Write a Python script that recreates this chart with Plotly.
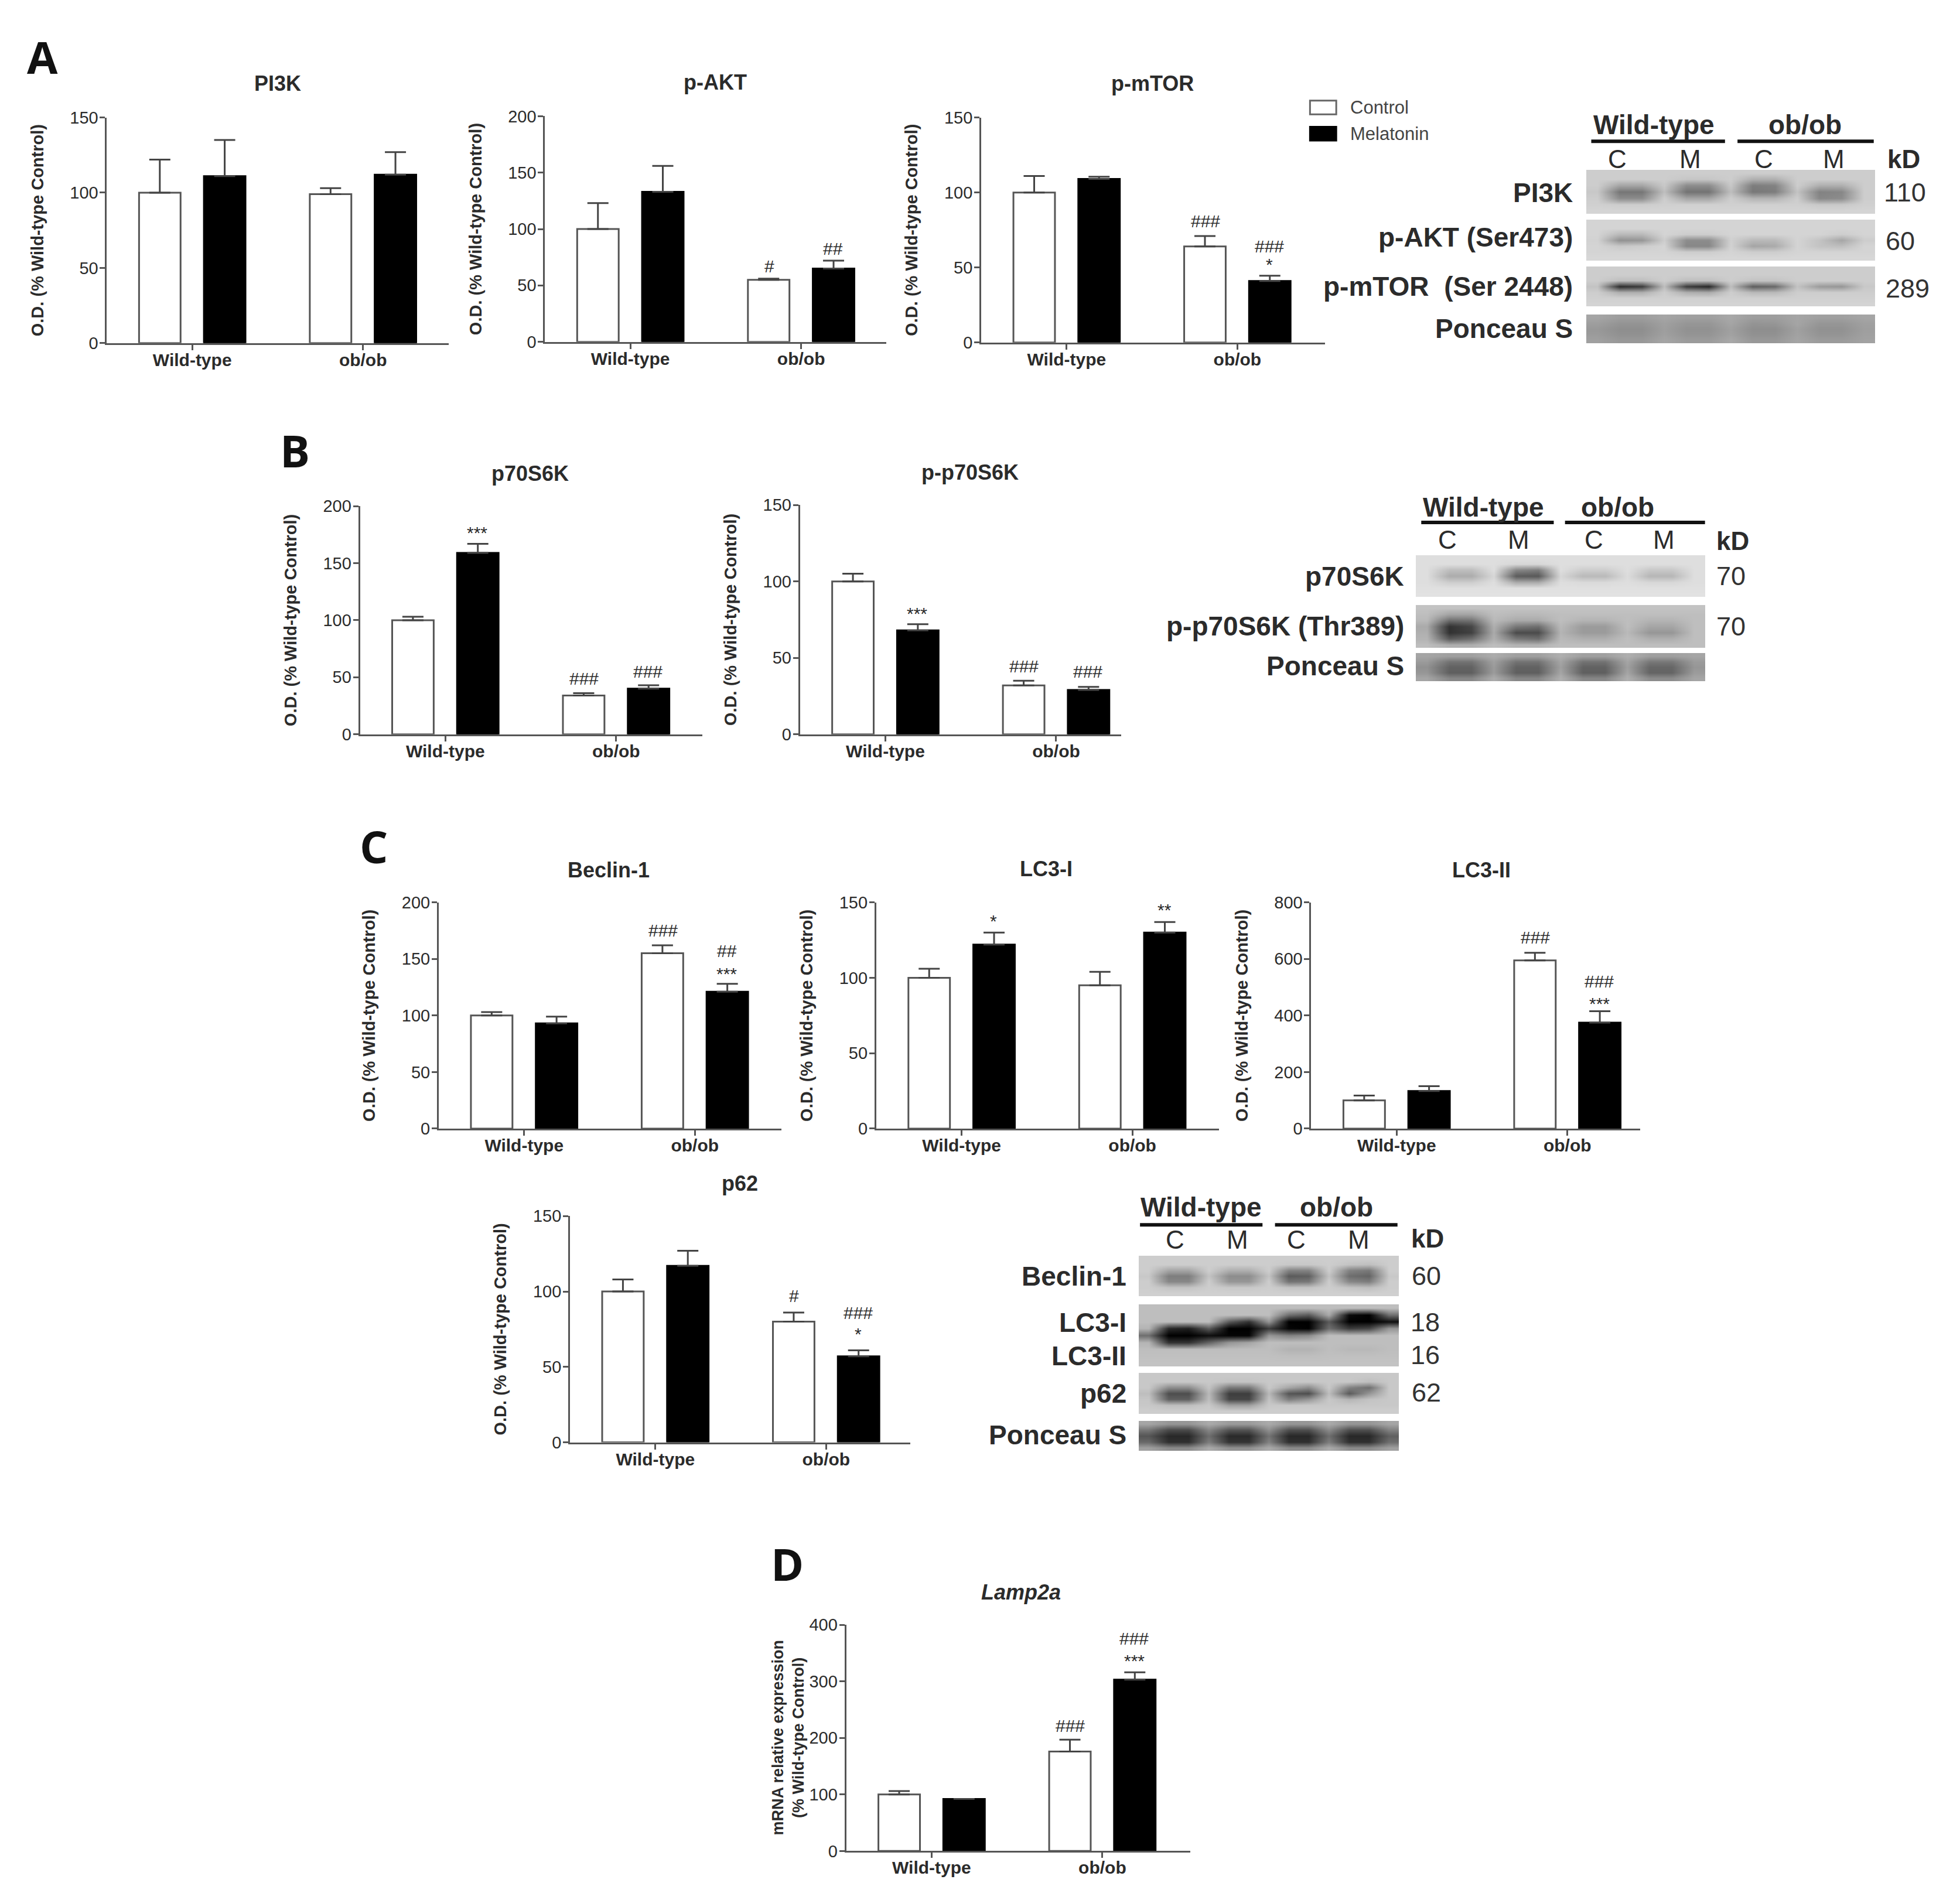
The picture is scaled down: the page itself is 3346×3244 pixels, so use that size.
import plotly.graph_objects as go

W, H = 3346, 3244
K = W / 1568.0  # reference overview units to page pixels
PAGE = 8        # the browser's body margin offsets the figure on the page
INK = "#2b2b2b"
AXC = "#555555"
FONT = "Liberation Sans"

groups = ["Wild-type", "ob/ob"]
series_names = ["Control", "Melatonin"]

# ---- values
pi3k_control = [100, 99];   pi3k_melatonin = [111, 112]
pi3k_control_err = [22, 4]; pi3k_melatonin_err = [24, 15]
pakt_control = [100, 55];   pakt_melatonin = [133, 65]
pakt_control_err = [23, 1]; pakt_melatonin_err = [23, 7]
pmtor_control = [100, 64];  pmtor_melatonin = [109, 41]
pmtor_control_err = [11, 7]; pmtor_melatonin_err = [1.5, 3.5]
p70_control = [100, 34];    p70_melatonin = [159, 40]
p70_control_err = [3, 2];   p70_melatonin_err = [8, 3]
pp70_control = [100, 32];   pp70_melatonin = [68, 29]
pp70_control_err = [5, 3];  pp70_melatonin_err = [4, 2]
beclin_control = [100, 155]; beclin_melatonin = [93, 121]
beclin_control_err = [3, 7]; beclin_melatonin_err = [6, 7]
lc3i_control = [100, 95];   lc3i_melatonin = [122, 130]
lc3i_control_err = [6, 9];  lc3i_melatonin_err = [8, 7]
lc3ii_control = [100, 595]; lc3ii_melatonin = [133, 375]
lc3ii_control_err = [17, 27]; lc3ii_melatonin_err = [17, 40]
p62_control = [100, 80];    p62_melatonin = [117, 57]
p62_control_err = [8, 6];   p62_melatonin_err = [10, 4]
lamp_control = [100, 176];  lamp_melatonin = [92, 303]
lamp_control_err = [6, 21]; lamp_melatonin_err = [0, 13]

# significance marks: (group index, series index, text, height in data units)
pakt_marks = [(1, 0, "#", 67), (1, 1, "##", 82.5)]
pmtor_marks = [(1, 0, "###", 81), (1, 1, "###", 64), (1, 1, "*", 52)]
p70_marks = [(0, 1, "***", 177), (1, 0, "###", 49), (1, 1, "###", 55)]
pp70_marks = [(0, 1, "***", 79), (1, 0, "###", 44.5), (1, 1, "###", 41)]
beclin_marks = [(1, 0, "###", 175), (1, 1, "##", 157), (1, 1, "***", 137)]
lc3i_marks = [(0, 1, "*", 137.5), (1, 1, "**", 145)]
lc3ii_marks = [(1, 0, "###", 676), (1, 1, "###", 521), (1, 1, "***", 442)]
p62_marks = [(1, 0, "#", 97), (1, 1, "###", 86), (1, 1, "*", 72)]
lamp_marks = [(1, 0, "###", 221), (1, 1, "###", 376), (1, 1, "***", 336)]

# ---- blot strips, grey levels read on a coarse grid (top row first)
blot_a_pi3k = [
 [205,205,205,205,205,205,205,205,205,205,205,205,205],
 [205,205,205,205,198,198,205,175,175,205,205,205,205],
 [205,165,165,200,140,140,200,125,130,205,175,175,205],
 [200,118,118,190,115,115,190,120,125,195,130,135,205],
 [205,140,140,205,165,165,205,180,180,205,135,140,205],
 [208,204,204,208,208,208,208,208,208,208,200,200,208],
 [212,212,212,212,212,212,212,212,212,212,212,212,212]]
blot_a_pakt = [
 [212,212,212,212,212,212,212,212,212,212,212,212,212],
 [212,212,212,212,212,212,212,212,212,212,212,212,212],
 [212,185,185,212,205,205,212,212,212,212,212,205,212],
 [210,145,150,205,140,140,208,185,185,212,195,165,205],
 [212,200,205,212,135,135,210,165,170,212,195,190,212],
 [212,212,212,212,205,205,212,205,205,212,212,212,212],
 [215,215,215,215,215,215,215,215,215,215,215,215,215]]
blot_a_pmtor = [
 [205,205,205,205,205,205,205,205,205,205,205,205,205],
 [205,205,205,205,205,205,205,205,205,205,205,205,205],
 [205,190,190,205,190,190,205,195,195,205,205,205,205],
 [195,45,60,190,60,40,190,95,105,195,155,150,200],
 [205,175,175,205,175,170,205,185,185,205,205,205,205],
 [208,208,208,208,208,208,208,208,208,208,208,208,208],
 [212,212,212,212,212,212,212,212,212,212,212,212,212]]
blot_a_ponceau = [
 [165,158,158,165,160,160,168,158,158,165,160,160,165],
 [158,148,148,160,150,150,165,148,150,165,150,150,160],
 [152,142,142,158,145,145,160,142,142,160,145,145,158],
 [155,145,145,160,148,148,162,145,145,162,148,148,160],
 [160,152,152,165,155,155,168,152,152,165,155,155,162]]

blot_b_p70 = [
 [222,222,222,222,222,222,222,222,222,222,222,222,222],
 [222,222,222,222,215,215,222,222,222,222,222,222,222],
 [222,190,190,222,135,125,222,205,205,222,200,200,222],
 [222,172,172,215,92,88,215,185,185,220,182,182,222],
 [222,205,205,222,170,170,222,218,218,222,215,215,222],
 [224,224,224,224,224,224,224,224,224,224,224,224,224],
 [226,226,226,226,226,226,226,226,226,226,226,226,226]]
blot_b_pp70 = [
 [195,195,195,195,195,195,195,195,195,195,195,195,195],
 [190,165,165,190,185,185,190,190,190,190,190,190,190],
 [185,110,115,185,170,170,190,180,180,190,180,180,190],
 [170,50,70,175,120,110,185,155,155,190,165,165,190],
 [175,50,65,170,75,75,180,155,155,185,150,150,190],
 [180,90,110,175,120,110,185,175,175,190,175,175,190],
 [190,175,175,190,180,180,190,190,190,190,190,190,190]]
blot_b_ponceau = [
 [165,160,160,172,160,160,175,160,160,175,160,160,165],
 [155,115,115,160,115,115,165,115,115,165,120,120,155],
 [145,98,98,155,98,98,160,98,98,160,102,102,150],
 [150,95,95,155,95,95,165,95,95,165,100,100,155],
 [165,135,135,172,135,135,175,135,135,175,140,140,165]]

blot_c_beclin = [
 [205,205,205,205,205,205,205,205,205,205,205,205,205],
 [205,205,205,205,205,205,205,200,200,205,195,190,205],
 [205,165,165,205,175,175,205,130,130,205,130,120,205],
 [200,125,125,195,140,140,195,90,95,195,110,100,200],
 [205,135,135,205,150,150,205,115,120,205,135,125,205],
 [205,195,195,205,200,200,205,195,195,205,195,190,205],
 [208,208,208,208,208,208,208,208,208,208,208,208,208]]
blot_c_lc3 = [
 [190,190,190,190,190,190,190,190,190,190,190,190,190],
 [190,190,190,190,190,190,190,110,90,170,10,0,110],
 [190,190,190,190,90,50,150,0,0,90,0,0,15],
 [180,40,30,90,0,0,60,5,0,110,60,70,150],
 [110,0,0,15,5,5,150,130,140,190,190,190,190],
 [180,50,50,100,150,165,190,190,190,190,190,190,190],
 [190,190,190,190,190,190,190,178,178,190,184,184,190],
 [192,192,192,192,192,192,192,190,190,192,192,192,192],
 [195,195,195,195,195,195,195,195,195,195,195,195,195]]
blot_c_p62 = [
 [200,200,200,200,200,200,200,200,200,200,200,200,200],
 [200,200,200,200,195,195,200,200,200,200,200,190,200],
 [200,140,140,195,120,120,200,165,140,200,130,110,200],
 [190,78,78,185,62,62,185,85,78,190,90,150,200],
 [198,95,95,190,70,70,195,125,150,200,180,195,200],
 [200,190,190,200,160,160,200,200,200,200,200,200,200],
 [205,205,205,205,205,205,205,205,205,205,205,205,205]]
blot_c_ponceau = [
 [165,150,150,170,155,155,170,150,150,170,150,150,165],
 [120,75,75,135,85,85,145,80,80,140,80,80,130],
 [85,40,40,110,42,42,115,40,40,110,40,40,95],
 [105,48,48,125,52,52,130,48,48,125,48,48,110],
 [160,140,140,170,145,145,170,140,140,170,140,140,160]]

# ---- placement of the strips on the page: matrix, left, right, top, bottom (page px)
strips = [
 (blot_a_pi3k, 2708, 3201, 290, 365), (blot_a_pakt, 2708, 3201, 375, 445),
 (blot_a_pmtor, 2708, 3201, 455, 523), (blot_a_ponceau, 2708, 3201, 537, 586),
 (blot_b_p70, 2417, 2911, 948, 1019), (blot_b_pp70, 2417, 2911, 1033, 1106),
 (blot_b_ponceau, 2417, 2911, 1115, 1163),
 (blot_c_beclin, 1944, 2388, 2144, 2213), (blot_c_lc3, 1944, 2388, 2227, 2333),
 (blot_c_p62, 1944, 2388, 2344, 2414), (blot_c_ponceau, 1944, 2388, 2426, 2477),
]

# ---- bar panels: geometry in overview units
CAT = 136.6
ylab = "O.D. (% Wild-type Control)"
panels = [
 dict(t="PI3K", x0=85.5, xe=359, top=94, y0=274.5, ymax=150, dt=50, tx=222, ty=67,
      c=pi3k_control, m=pi3k_melatonin, ce=pi3k_control_err, me=pi3k_melatonin_err, marks=[], yl=ylab),
 dict(t="p-AKT", x0=436, xe=709, top=93, y0=273.5, ymax=200, dt=50, tx=572, ty=66,
      c=pakt_control, m=pakt_melatonin, ce=pakt_control_err, me=pakt_melatonin_err, marks=pakt_marks, yl=ylab),
 dict(t="p-mTOR", x0=785, xe=1060, top=94, y0=274, ymax=150, dt=50, tx=922, ty=67,
      c=pmtor_control, m=pmtor_melatonin, ce=pmtor_control_err, me=pmtor_melatonin_err, marks=pmtor_marks, yl=ylab),
 dict(t="p70S6K", x0=288, xe=562, top=405, y0=587.5, ymax=200, dt=50, tx=424, ty=379,
      c=p70_control, m=p70_melatonin, ce=p70_control_err, me=p70_melatonin_err, marks=p70_marks, yl=ylab),
 dict(t="p-p70S6K", x0=640, xe=897, top=404, y0=587.5, ymax=150, dt=50, tx=776, ty=378,
      c=pp70_control, m=pp70_melatonin, ce=pp70_control_err, me=pp70_melatonin_err, marks=pp70_marks, yl=ylab),
 dict(t="Beclin-1", x0=351, xe=625, top=722, y0=903, ymax=200, dt=50, tx=487, ty=696,
      c=beclin_control, m=beclin_melatonin, ce=beclin_control_err, me=beclin_melatonin_err, marks=beclin_marks, yl=ylab),
 dict(t="LC3-I", x0=701, xe=975, top=722, y0=903, ymax=150, dt=50, tx=837, ty=695,
      c=lc3i_control, m=lc3i_melatonin, ce=lc3i_control_err, me=lc3i_melatonin_err, marks=lc3i_marks, yl=ylab),
 dict(t="LC3-II", x0=1049, xe=1312, top=722, y0=903, ymax=800, dt=200, tx=1185, ty=696,
      c=lc3ii_control, m=lc3ii_melatonin, ce=lc3ii_control_err, me=lc3ii_melatonin_err, marks=lc3ii_marks, yl=ylab),
 dict(t="p62", x0=456, xe=728, top=973, y0=1154, ymax=150, dt=50, tx=592, ty=947,
      c=p62_control, m=p62_melatonin, ce=p62_control_err, me=p62_melatonin_err, marks=p62_marks, yl=ylab),
 dict(t="<i>Lamp2a</i>", x0=677, xe=952, top=1300, y0=1481, ymax=400, dt=100, tx=817, ty=1274,
      c=lamp_control, m=lamp_melatonin, ce=lamp_control_err, me=lamp_melatonin_err, marks=lamp_marks,
      yl=None),
]

fig = go.Figure()
annotations, shapes = [], []
layout = {}


def px(x):
    return (x * K - PAGE) / W


def py(y):
    return 1 - (y * K - PAGE) / H


def page_text(x, y, text, size, bold=True, anchor="center", color=INK, family=FONT, angle=0):
    annotations.append(dict(
        xref="paper", yref="paper", x=px(x), y=py(y), text=text, showarrow=False,
        xanchor=anchor, yanchor="middle", textangle=angle,
        font=dict(family=family, size=size, color=color, weight=700 if bold else 400)))


for i, p in enumerate(panels, start=1):
    xa, ya = f"x{i}", f"y{i}"
    for j, (vals, errs, fill) in enumerate(((p["c"], p["ce"], "white"), (p["m"], p["me"], "black"))):
        fig.add_trace(go.Bar(
            x=groups, y=vals, name=series_names[j], xaxis=xa, yaxis=ya, showlegend=False,
            marker=dict(color=fill, line=dict(color=AXC if j == 0 else "black", width=3)),
            error_y=dict(type="data", symmetric=False, array=errs, color="#444444", thickness=3, width=18),
        ))
    layout[f"xaxis{i}"] = dict(
        domain=[px(p["x0"]), px(p["xe"])], anchor=ya, type="category", automargin=False,
        categoryorder="array", categoryarray=groups,
        range=[-0.5, (p["xe"] - p["x0"]) / CAT - 0.5],
        showline=True, linecolor=AXC, linewidth=3, ticks="outside", ticklen=9, tickwidth=3, tickcolor=AXC,
        showgrid=False, zeroline=False, ticklabelstandoff=-9,
        tickfont=dict(family=FONT, size=30, color=INK, weight=700))
    ytitle = dict(text=p["yl"], font=dict(family=FONT, size=29, color=INK, weight=700), standoff=37) if p["yl"] else None
    layout[f"yaxis{i}"] = dict(
        domain=[py(p["y0"]), py(p["top"])], anchor=xa, range=[0, p["ymax"]], automargin=False,
        tick0=0, dtick=p["dt"], showline=True, linecolor=AXC, linewidth=3, ticks="outside", ticklen=9,
        tickwidth=3, tickcolor=AXC, showgrid=False, zeroline=False, ticklabelstandoff=-3,
        tickfont=dict(family=FONT, size=29, color=INK), title=ytitle)
    page_text(p["tx"], p["ty"], p["t"], 36)
    for g, s, txt, val in p["marks"]:
        annotations.append(dict(
            xref=xa, yref=ya, x=g + (-0.187 if s == 0 else 0.187), y=val, text=txt, showarrow=False,
            xanchor="center", yanchor="middle", font=dict(family=FONT, size=30, color=INK)))

# the two-line axis label of the Lamp2a panel sits close to its ticks
page_text(630.5, 1390, "mRNA relative expression<br>(% Wild-type Control)", 27, angle=-90)

# blot strips on one page-wide axis pair
n = len(panels) + 1
for z, left, right, top, bottom in strips:
    ncols, nrows = len(z[0]), len(z)
    dx, dy = (right - left) / ncols, (bottom - top) / nrows
    fig.add_trace(go.Heatmap(
        z=z, x0=left + dx / 2, dx=dx, y0=top + dy / 2, dy=dy,
        xaxis=f"x{n}", yaxis=f"y{n}", zmin=0, zmax=255, zsmooth="best", showscale=False, hoverinfo="skip",
        colorscale=[[0, "black"], [1, "white"]]))
layout[f"xaxis{n}"] = dict(domain=[0, 1], range=[PAGE, W + PAGE], visible=False, anchor=f"y{n}")
layout[f"yaxis{n}"] = dict(domain=[0, 1], range=[H + PAGE, PAGE], visible=False, anchor=f"x{n}")

# panel letters
for letter, lx, ly in (("A", 34, 45), ("B", 236, 360), ("C", 299, 677), ("D", 630, 1251)):
    page_text(lx, ly, letter, 76, family="Open Sans", color="#111111")

# small legend
for label, ky, fill in (("Control", 86, "white"), ("Melatonin", 107, "black")):
    shapes.append(dict(type="rect", xref="paper", yref="paper", x0=px(1048), x1=px(1069),
                       y0=py(ky + 5.5), y1=py(ky - 5.5), fillcolor=fill,
                       line=dict(color="#666666" if fill == "white" else "black", width=3)))
    page_text(1079, ky, label, 31, bold=False, anchor="left", color="#444444")


def blot_header(wt_x, ob_x, head_y, line_y, wt_span, ob_span, lane_xs, lane_y, kd_x, kd_y):
    page_text(wt_x, head_y, "Wild-type", 46)
    page_text(ob_x, head_y, "ob/ob", 46)
    for a, b in (wt_span, ob_span):
        shapes.append(dict(type="line", xref="paper", yref="paper", x0=px(a), x1=px(b),
                           y0=py(line_y), y1=py(line_y), line=dict(color="#111111", width=6)))
    for lx, ch in zip(lane_xs, "CMCM"):
        page_text(lx, lane_y, ch, 44, bold=False)
    page_text(kd_x, kd_y, "kD", 44)


blot_header(1323, 1444, 100, 113, (1273, 1380), (1390, 1499), (1294, 1352, 1411, 1467), 127, 1523, 127)
blot_header(1187, 1294, 406, 418, (1137, 1243), (1252, 1364), (1158, 1215, 1275, 1331), 432, 1386, 433)
blot_header(961, 1069, 966, 980, (912, 1010), (1020, 1118), (940, 990, 1037, 1087), 992, 1142, 991)

for txt, x, y in (("PI3K", 1259, 154), ("p-AKT (Ser473)", 1259, 190), ("p-mTOR  (Ser 2448)", 1259, 229),
                  ("Ponceau S", 1259, 263), ("p70S6K", 1124, 461), ("p-p70S6K (Thr389)", 1124, 501),
                  ("Ponceau S", 1124, 533), ("Beclin-1", 902, 1021), ("LC3-I", 902, 1058), ("LC3-II", 902, 1085),
                  ("p62", 902, 1115), ("Ponceau S", 902, 1148)):
    page_text(x, y, txt, 46, anchor="right")

for txt, x, y in (("110", 1524, 154), ("60", 1520, 193), ("289", 1526, 231), ("70", 1385, 461), ("70", 1385, 501),
                  ("60", 1141, 1021), ("18", 1140, 1058), ("16", 1140, 1084), ("62", 1141, 1114)):
    page_text(x, y, txt, 45, bold=False, color="#333333")

fig.update_layout(
    width=W, height=H, margin=dict(l=0, r=0, t=0, b=0, autoexpand=False), autosize=False,
    paper_bgcolor="white", plot_bgcolor="rgba(0,0,0,0)", barmode="group", bargap=0.24, bargroupgap=0.36,
    annotations=annotations, shapes=shapes, showlegend=False, **layout)

fig.write_html("out.html")
